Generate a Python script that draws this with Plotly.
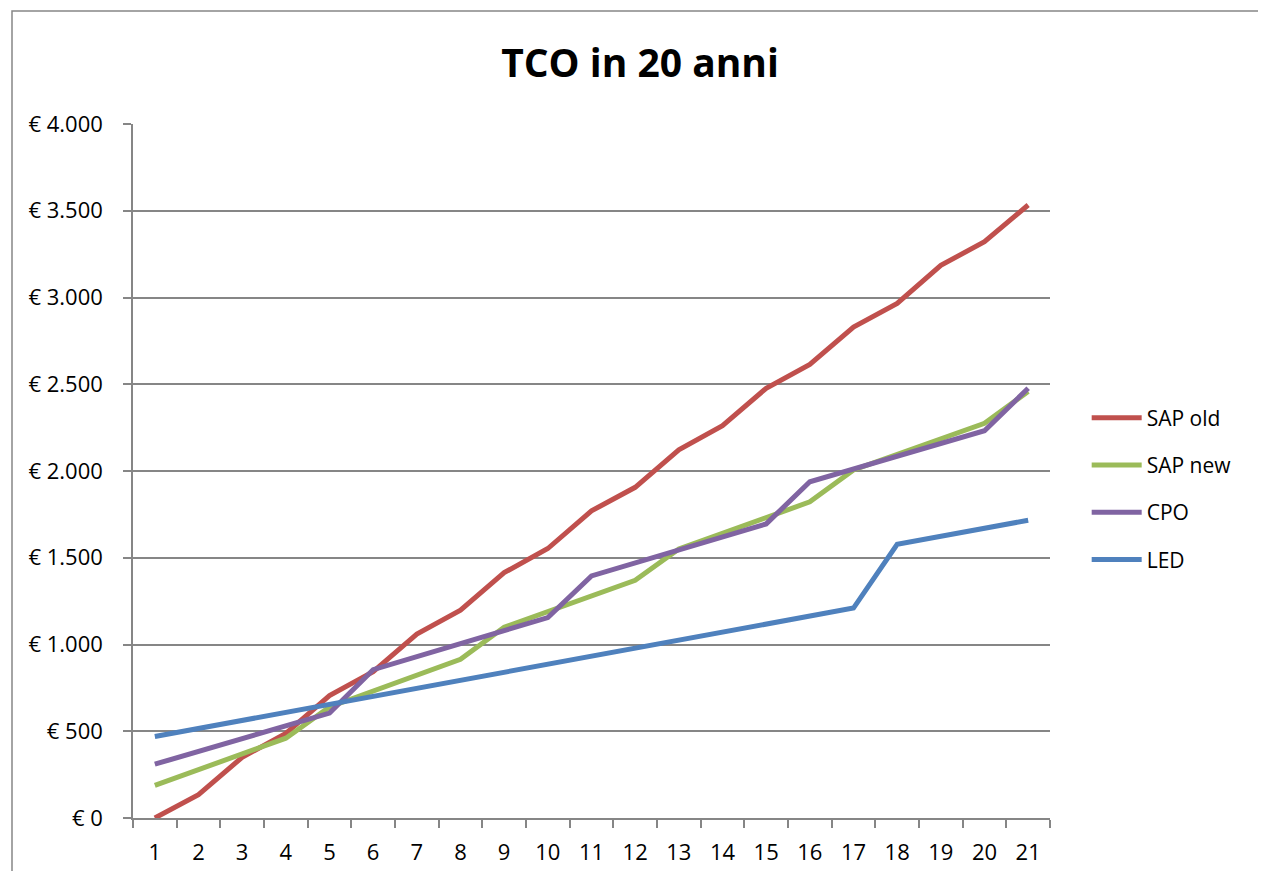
import plotly.graph_objects as go

years = list(range(1, 22))
sap_old = [0, 135, 350, 488, 705, 843, 1060, 1198, 1414, 1553, 1770, 1906, 2122, 2261, 2477, 2614, 2830, 2966, 3185, 3322, 3533]
sap_new = [188, 278, 368, 460, 640, 730, 822, 915, 1100, 1190, 1280, 1370, 1550, 1640, 1730, 1822, 2006, 2096, 2186, 2275, 2458]
cpo = [310, 384, 458, 531, 605, 855, 930, 1005, 1080, 1155, 1395, 1470, 1545, 1620, 1695, 1938, 2012, 2085, 2159, 2232, 2477]
led = [470, 516, 562, 608, 655, 701, 747, 793, 840, 886, 932, 978, 1025, 1071, 1117, 1163, 1210, 1578, 1624, 1670, 1716]

series_names = ["SAP old", "SAP new", "CPO", "LED"]
series_values = [sap_old, sap_new, cpo, led]
series_colors = ["#C0504D", "#9BBB59", "#8064A2", "#4F81BD"]

y_tickvals = [0, 500, 1000, 1500, 2000, 2500, 3000, 3500, 4000]
y_ticktext = ["€ 0", "€ 500", "€ 1.000", "€ 1.500", "€ 2.000", "€ 2.500", "€ 3.000", "€ 3.500", "€ 4.000"]

FONT = "Open Sans"
GRAY = "#868686"
W, H = 1250, 863

fig = go.Figure()
for i, (name, vals, col) in enumerate(zip(series_names, series_values, series_colors)):
    fig.add_trace(go.Scatter(
        x=years, y=vals, name=name, mode="lines",
        line=dict(color=col, width=5),
        legendgroup=f"g{i}",
    ))

fig.update_layout(
    width=W, height=H,
    margin=dict(l=125, r=W - 1042, t=116, b=H - 810, autoexpand=False),
    paper_bgcolor="white", plot_bgcolor="white",
    font=dict(family=FONT, size=22, color="black"),
    title=dict(text="<b>TCO in 20 anni</b>", x=632 / W, xanchor="center",
               y=1 - 55 / H, yanchor="middle", yref="container",
               font=dict(family=FONT, size=39, color="black")),
    showlegend=True,
    legend=dict(x=1.04, xanchor="left", y=(818 - 489) / 694, yanchor="middle",
                font=dict(family=FONT, size=21, color="black"),
                tracegroupgap=17, bgcolor="rgba(0,0,0,0)", itemwidth=50),
    xaxis=dict(range=[0.5, 21.5], tickvals=years, ticktext=[str(y) for y in years],
               ticks="", showgrid=False, zeroline=False, automargin=False,
               showline=True, linecolor=GRAY, linewidth=1.5,
               ticklabelstandoff=14,
               minor=dict(ticks="outside", tick0=0.5, dtick=1, ticklen=8,
                          tickcolor=GRAY, tickwidth=1.5, showgrid=False),
               tickfont=dict(family=FONT, size=22, color="black")),
    yaxis=dict(range=[0, 4000], tickvals=y_tickvals, ticktext=y_ticktext,
               showgrid=True, gridcolor=GRAY, gridwidth=1.5, automargin=False,
               zeroline=False, showline=True, linecolor=GRAY, linewidth=1.5,
               ticks="outside", ticklen=8, tickcolor=GRAY, tickwidth=1.5,
               ticklabelstandoff=16,
               tickfont=dict(family=FONT, size=22, color="black")),
    shapes=[dict(type="rect", xref="paper", yref="paper",
                 x0=(12 - 133) / 917, x1=1.4, y0=-0.3, y1=(818 - 11) / 694,
                 line=dict(color=GRAY, width=1.5), fillcolor="rgba(0,0,0,0)",
                 layer="below")],
)

fig.write_html("out.html", config={"displayModeBar": False})
